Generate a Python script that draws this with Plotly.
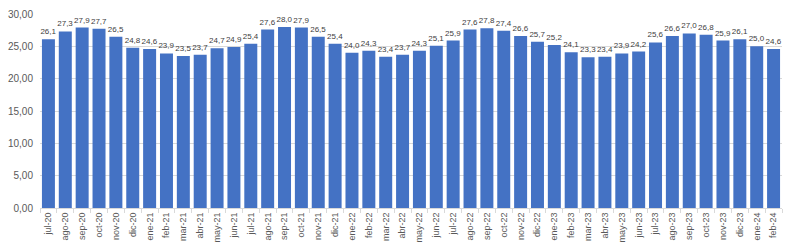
import plotly.graph_objects as go

categories = ["jul-20","ago-20","sep-20","oct-20","nov-20","dic-20","ene-21","feb-21","mar-21","abr-21",
              "may-21","jun-21","jul-21","ago-21","sep-21","oct-21","nov-21","dic-21","ene-22","feb-22",
              "mar-22","abr-22","may-22","jun-22","jul-22","ago-22","sep-22","oct-22","nov-22","dic-22",
              "ene-23","feb-23","mar-23","abr-23","may-23","jun-23","jul-23","ago-23","sep-23","oct-23",
              "nov-23","dic-23","ene-24","feb-24"]
values = [26.1,27.3,27.9,27.7,26.5,24.8,24.6,23.9,23.5,23.7,
          24.7,24.9,25.4,27.6,28.0,27.9,26.5,25.4,24.0,24.3,
          23.4,23.7,24.3,25.1,25.9,27.6,27.8,27.4,26.6,25.7,
          25.2,24.1,23.3,23.4,23.9,24.2,25.6,26.6,27.0,26.8,
          25.9,26.1,25.0,24.6]
y_ticks = [0, 5, 10, 15, 20, 25, 30]

fig = go.Figure(go.Bar(
    x=categories, y=values,
    marker=dict(color="#4472C4", line=dict(width=0)),
    texttemplate="%{y:.1f}", textposition="outside",
    textfont=dict(family="Liberation Sans, Arial", size=8, color="#404040"),
    constraintext="none",
    cliponaxis=False,
))

fig.update_layout(
    width=790, height=251,
    margin=dict(l=39, r=8, t=12, b=43),
    paper_bgcolor="white", plot_bgcolor="white",
    separators=",.",
    bargap=0.23,
    showlegend=False,
    font=dict(family="Liberation Sans, Arial", color="#595959"),
)
fig.update_yaxes(
    range=[0, 30], tickvals=y_ticks, tickformat=".2f",
    showgrid=True, gridcolor="#d9d9d9", gridwidth=1,
    zeroline=False, showline=False,
    tickfont=dict(size=10, color="#595959"), ticks="", ticklabelstandoff=6,
)
fig.update_xaxes(
    tickangle=-90, tickfont=dict(size=9, color="#595959"),
    showline=True, linecolor="#d9d9d9", linewidth=1,
    ticks="outside", tickson="boundaries", ticklen=4, tickcolor="#d9d9d9",
    showgrid=False,
)

fig.write_html("out.html")
